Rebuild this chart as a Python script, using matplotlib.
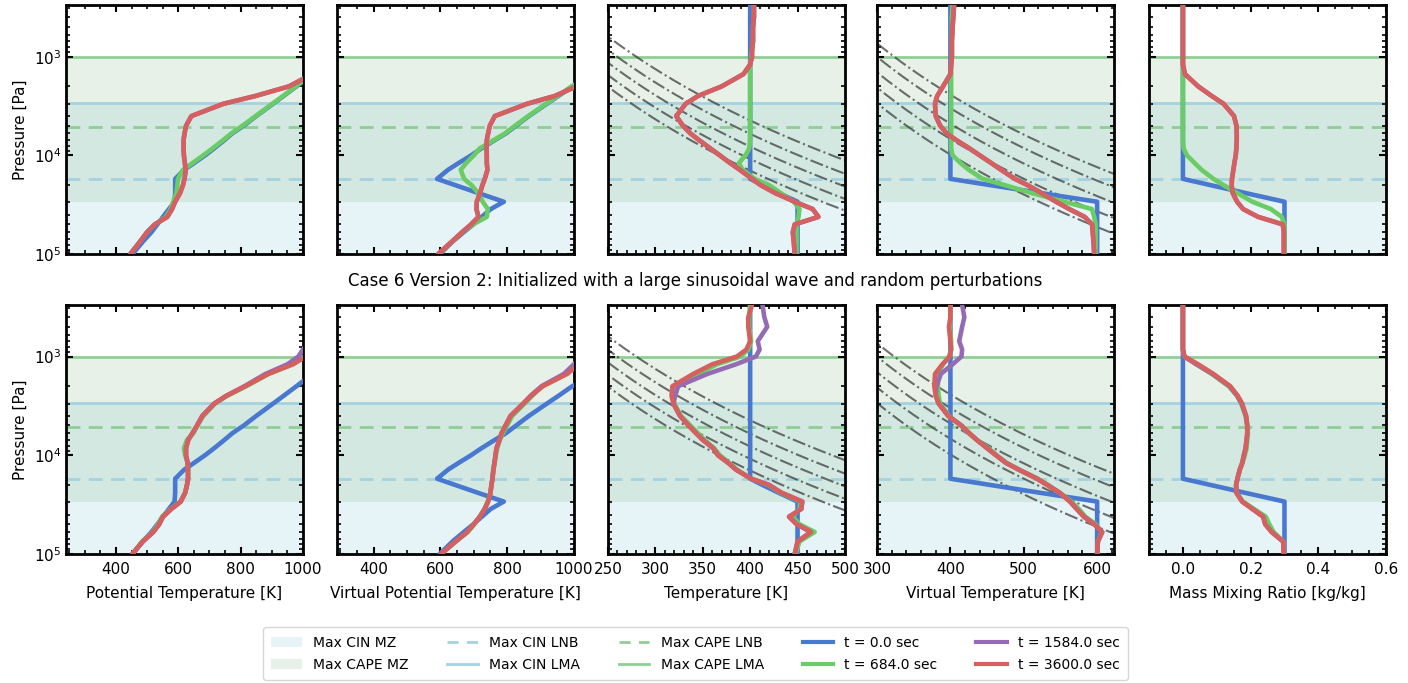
import matplotlib.pyplot as plt
import numpy as np
from matplotlib.lines import Line2D
from matplotlib.patches import Patch

# pressure levels [Pa] shared by every profile below
P_LEV = [300, 400, 500, 700, 850, 1000, 1200, 1500, 2000, 2500, 3000, 4000, 5000,
         6000, 7000, 8500, 10000, 12000, 14000, 17300, 20000, 24000, 29500, 35000,
         42000, 50000, 60000, 75000, 100000]

# reference levels [Pa]
CAPE_LMA = 1000
CIN_LMA = 2950
CAPE_LNB = 5200
CIN_LNB = 17300
CAPE_MZ_BOT = 29500
P_SURF = 100000

# initial state (t = 0), same in both rows
blue_theta = [1500, 1400, 1330, 1230, 1170, 1120, 1075, 1030, 979, 938, 904, 850, 810,
              773, 748, 715, 686, 650, 619, 590, 590, 590, 588, 570, 551, 533, 514, 486, 453]
blue_thetav = [1600, 1500, 1420, 1310, 1240, 1180, 1120, 1060, 995, 954, 919, 865, 827,
               796, 763, 723, 692, 654, 623, 590, 644, 712, 790, 751, 724, 699, 670, 636, 598]
blue_temp = [400] * 20 + [413, 430, 450] + [450] * 6
blue_tempv = [400] * 20 + [454, 522, 600] + [600] * 6
blue_q = [0.0] * 20 + [0.081, 0.183, 0.3] + [0.3] * 6

# top row (version 1)
top_red_theta = [1400, 1320, 1260, 1180, 1140, 1100, 1080, 1030, 955, 848, 745, 642, 625,
                 620, 617, 617, 618, 621, 624, 620, 615, 606, 590, 580, 565, 525, 500, 477, 446]
top_green_theta = [1500, 1400, 1330, 1230, 1170, 1120, 1075, 1028, 977, 936, 902, 848, 806,
                   770, 744, 710, 680, 645, 615, 599, 597, 594, 584, 575, 560, 525, 500, 477, 446]
top_red_thetav = [1200, 1180, 1160, 1140, 1120, 1100, 1070, 1032, 1008, 943, 860, 763, 748,
                  743, 739, 738, 739, 739, 741, 733, 726, 719, 709, 708, 714, 692, 665, 634, 593]
top_green_thetav = [1600, 1500, 1420, 1310, 1240, 1180, 1118, 1058, 993, 952, 917, 863, 824,
                    793, 760, 718, 700, 677, 661, 671, 693, 713, 727, 742, 739, 698, 666, 635, 594]
top_red_temp = [404, 404, 403, 403, 402, 402, 400, 393, 370, 345, 332, 322, 329, 337, 346,
                358, 368, 379, 389, 402, 411, 426, 447, 466, 472, 447, 445, 446, 447]
top_green_temp = [404, 404, 403, 403, 402, 401, 400, 400, 400, 400, 400, 400, 400, 400, 400,
                  399, 395, 388, 392, 405, 420, 432, 446, 452, 451, 449, 449, 449, 449]
top_red_tempv = [405, 404, 403, 402, 402, 402, 401, 400, 390, 382, 379, 380, 386, 395, 408,
                 426, 440, 456, 469, 488, 505, 524, 544, 562, 583, 593, 594, 595, 596]
top_green_tempv = [403, 402, 402, 402, 402, 402, 401, 401, 401, 401, 401, 401, 401, 401, 401,
                   401, 403, 414, 425, 444, 474, 510, 555, 593, 596, 598, 598, 598, 598]
top_red_q = [0, 0, 0, 0, 0, 0, 0, 0.006, 0.045, 0.085, 0.12, 0.151, 0.158, 0.159, 0.159,
             0.158, 0.156, 0.152, 0.149, 0.145, 0.144, 0.147, 0.16, 0.178, 0.222, 0.295,
             0.298, 0.298, 0.298]
top_green_q = [0] * 15 + [0.002, 0.012, 0.035, 0.055, 0.09, 0.12, 0.16, 0.205, 0.26, 0.292,
                          0.3, 0.3, 0.3, 0.3]

# bottom row (version 2)
bot_red_theta = [1200, 1150, 1110, 1060, 1035, 1010, 968, 889, 815, 754, 715, 677, 660, 645,
                 632, 625, 625, 630, 631, 631, 628, 622, 608, 578, 551, 539, 520, 486, 453]
bot_green_theta = [1190, 1140, 1100, 1050, 1030, 1005, 965, 890, 818, 757, 718, 680, 662, 648,
                   628, 618, 622, 630, 632, 632, 628, 622, 607, 576, 548, 535, 518, 484, 453]
bot_purple_theta = [1150, 1100, 1060, 1020, 1000, 985, 950, 880, 812, 754, 715, 677, 660, 645,
                    632, 625, 625, 630, 631, 631, 628, 622, 608, 578, 551, 539, 520, 486, 453]
bot_red_thetav = [1120, 1110, 1100, 1080, 1060, 1040, 1015, 980, 907, 872, 848, 810, 795, 783,
                  777, 768, 765, 762, 759, 756, 753, 750, 743, 733, 718, 700, 680, 645, 602]
bot_green_thetav = [1110, 1100, 1090, 1070, 1050, 1030, 1010, 975, 905, 875, 852, 815, 800, 787,
                    778, 770, 766, 762, 758, 756, 753, 750, 742, 732, 718, 702, 682, 646, 602]
bot_purple_thetav = [1090, 1080, 1070, 1050, 1035, 1020, 1000, 970, 903, 870, 848, 810, 795, 783,
                     777, 768, 765, 762, 759, 756, 753, 750, 743, 733, 718, 700, 680, 645, 602]
bot_red_temp = [402, 398, 398, 400, 396, 386, 360, 340, 318, 317, 319, 326, 335, 343, 350,
                361, 366, 377, 385, 401, 420, 433, 455, 454, 441, 449, 464, 450, 447]
bot_green_temp = [400, 399, 399, 401, 398, 390, 365, 345, 322, 318, 320, 327, 337, 345, 352,
                  362, 368, 378, 386, 401, 419, 432, 453, 452, 445, 452, 468, 452, 448]
bot_purple_temp = [413, 415, 418, 408, 410, 406, 385, 355, 324, 321, 319, 326, 335, 343, 350,
                   361, 366, 377, 385, 401, 420, 433, 455, 454, 441, 449, 464, 450, 447]
bot_red_tempv = [400, 400, 398, 400, 401, 399, 389, 379, 378, 380, 384, 397, 415, 426, 436,
                 450, 462, 476, 493, 518, 532, 549, 563, 572, 582, 596, 607, 601, 600]
bot_green_tempv = [400, 400, 399, 401, 401, 398, 390, 383, 383, 384, 386, 398, 414, 425, 436,
                   452, 463, 477, 494, 519, 533, 549, 565, 575, 584, 598, 606, 601, 600]
bot_purple_tempv = [416, 419, 416, 412, 416, 415, 403, 387, 381, 380, 384, 397, 415, 426, 436,
                    450, 462, 476, 493, 518, 532, 549, 563, 572, 582, 596, 607, 601, 600]
bot_red_q = [0, 0, 0, 0, 0, 0.005, 0.045, 0.09, 0.14, 0.162, 0.175, 0.187, 0.19, 0.19, 0.188,
             0.185, 0.18, 0.175, 0.168, 0.161, 0.157, 0.158, 0.175, 0.205, 0.237, 0.243,
             0.262, 0.296, 0.298]
bot_green_q = [0, 0, 0, 0, 0, 0.004, 0.04, 0.085, 0.135, 0.16, 0.172, 0.185, 0.19, 0.192, 0.19,
               0.188, 0.183, 0.176, 0.168, 0.161, 0.157, 0.159, 0.177, 0.21, 0.245, 0.255,
               0.268, 0.297, 0.298]
bot_purple_q = [0, 0, 0, 0, 0, 0.004, 0.04, 0.087, 0.138, 0.16, 0.174, 0.186, 0.19, 0.19, 0.188,
                0.185, 0.18, 0.175, 0.168, 0.161, 0.157, 0.158, 0.175, 0.205, 0.237, 0.243,
                0.262, 0.296, 0.298]

# guide adiabats, T = theta * (p / 1e5) ** KAPPA
KAPPA = 0.24
ADIABAT_T = [845, 784, 730, 681, 638]
ADIABAT_TV = [976, 905, 830, 762, 698]

TIMES = ["t = 0.0 sec", "t = 684.0 sec", "t = 1584.0 sec", "t = 3600.0 sec"]
XLABELS = ["Potential Temperature [K]", "Virtual Potential Temperature [K]",
           "Temperature [K]", "Virtual Temperature [K]", "Mass Mixing Ratio [kg/kg]"]
TITLE2 = "Case 6 Version 2: Initialized with a large sinusoidal wave and random perturbations"

XLIMS = [(240, 1000), (290, 1000), (250, 500), (300, 623), (-0.1, 0.6)]
C_BLUE, C_GREEN, C_PURPLE, C_RED = "#4878d0", "#6acc64", "#956cb4", "#d65f5f"
C_CIN_FILL, C_CAPE_FILL = "lightblue", "darkseagreen"
C_CIN_LINE, C_CAPE_LINE = "#a3d2e0", "#8fcf95"

top_panels = [
    (blue_theta, top_green_theta, top_red_theta, top_red_theta),
    (blue_thetav, top_green_thetav, top_red_thetav, top_red_thetav),
    (blue_temp, top_green_temp, top_red_temp, top_red_temp),
    (blue_tempv, top_green_tempv, top_red_tempv, top_red_tempv),
    (blue_q, top_green_q, top_red_q, top_red_q),
]
bot_panels = [
    (blue_theta, bot_green_theta, bot_purple_theta, bot_red_theta),
    (blue_thetav, bot_green_thetav, bot_purple_thetav, bot_red_thetav),
    (blue_temp, bot_green_temp, bot_purple_temp, bot_red_temp),
    (blue_tempv, bot_green_tempv, bot_purple_tempv, bot_red_tempv),
    (blue_q, bot_green_q, bot_purple_q, bot_red_q),
]

fig = plt.figure(figsize=(14.08, 6.83), dpi=100)
lefts = [0.0469, 0.2393, 0.4318, 0.6229, 0.8161]
W, H = 0.1683, 0.3646
bottoms = [0.628, 0.189]

p_line = np.geomspace(200, 1.2e5, 200)

for r, panels in enumerate([top_panels, bot_panels]):
    for c, series in enumerate(panels):
        ax = fig.add_axes([lefts[c], bottoms[r], W, H])
        ax.set_yscale("log")
        ax.axhspan(CIN_LMA, P_SURF, color=C_CIN_FILL, alpha=0.3, lw=0, zorder=0)
        ax.axhspan(CAPE_LMA, CAPE_MZ_BOT, color=C_CAPE_FILL, alpha=0.2, lw=0, zorder=0)
        ax.axhline(CIN_LNB, color=C_CIN_LINE, ls=(0, (5, 3)), lw=2, zorder=1)
        ax.axhline(CIN_LMA, color=C_CIN_LINE, lw=2, zorder=1)
        ax.axhline(CAPE_LNB, color=C_CAPE_LINE, ls=(0, (5, 3)), lw=2, zorder=1)
        ax.axhline(CAPE_LMA, color=C_CAPE_LINE, lw=2, zorder=1)

        if c in (2, 3):
            thetas = ADIABAT_T if c == 2 else ADIABAT_TV
            for th in thetas:
                ax.plot(th * (p_line / 1e5) ** KAPPA, p_line, color="#333333",
                        alpha=0.7, ls="-.", lw=1.5, zorder=2)

        for vals, col in zip(series, [C_BLUE, C_GREEN, C_PURPLE, C_RED]):
            ax.plot(vals, P_LEV, color=col, lw=3.3, zorder=3, solid_capstyle="round")

        ax.set_xlim(*XLIMS[c])
        ax.set_ylim(1e5, 300)
        ax.minorticks_on()
        ax.tick_params(which="both", direction="in", top=True, right=True, labelsize=11)
        ax.tick_params(which="major", length=5, width=1.5)
        ax.tick_params(which="minor", length=3, width=1.2)
        ax.tick_params(axis="x", pad=6)
        for s in ax.spines.values():
            s.set_linewidth(2)
        if c == 0:
            ax.set_ylabel("Pressure [Pa]", fontsize=11)
        else:
            ax.tick_params(labelleft=False)
        if r == 0:
            ax.tick_params(labelbottom=False)
        else:
            ax.set_xlabel(XLABELS[c], fontsize=11, labelpad=6)

fig.text(0.494, 0.5886, TITLE2, ha="center", va="center", fontsize=12)

handles = [
    Patch(facecolor=C_CIN_FILL, alpha=0.3),
    Patch(facecolor=C_CAPE_FILL, alpha=0.2),
    Line2D([], [], color=C_CIN_LINE, ls=(0, (4, 3)), lw=2),
    Line2D([], [], color=C_CIN_LINE, lw=2),
    Line2D([], [], color=C_CAPE_LINE, ls=(0, (4, 3)), lw=2),
    Line2D([], [], color=C_CAPE_LINE, lw=2),
] + [Line2D([], [], color=col, lw=3) for col in [C_BLUE, C_GREEN, C_PURPLE, C_RED]]
labels = ["Max CIN MZ", "Max CAPE MZ", "Max CIN LNB", "Max CIN LMA",
          "Max CAPE LNB", "Max CAPE LMA"] + TIMES
fig.legend(handles, labels, ncol=5, loc="lower center", bbox_to_anchor=(0.494, 0.0),
           fontsize=10, columnspacing=2.8, handlelength=2.2, labelspacing=0.6,
           borderpad=0.6, borderaxespad=0.2)

fig.savefig("out.png", dpi=100)
